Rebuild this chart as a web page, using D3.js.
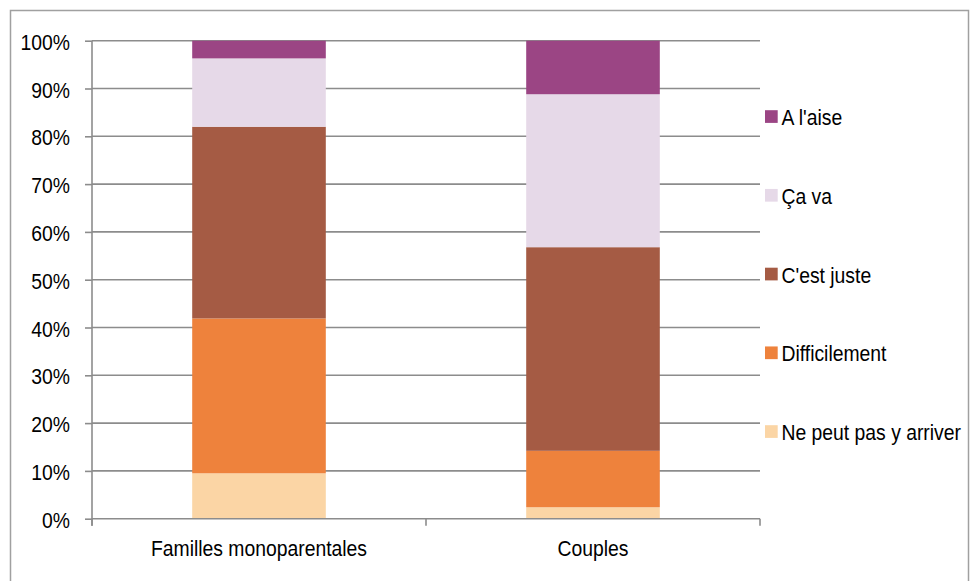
<!DOCTYPE html>
<html>
<head>
<meta charset="utf-8">
<script src="https://cdn.jsdelivr.net/npm/d3@7"></script>
<style>
  html, body { margin: 0; padding: 0; background: #fff; }
  svg { display: block; }
  text { font-family: "Liberation Sans", Arial, sans-serif; fill: #000; }
</style>
</head>
<body>
<svg id="chart" width="971" height="581"></svg>
<script>
// Budget situation by household type (shares, %)
const categories = ["Familles monoparentales", "Couples"];
const seriesNames = ["Ne peut pas y arriver", "Difficilement", "C'est juste", "Ça va", "A l'aise"];
const seriesColors = ["#FBD5A5", "#EE823C", "#A55B44", "#E6D9E8", "#9B4584"];
const nePeutPas    = [9.5, 2.4];
const difficilement = [32.4, 11.8];
const cestJuste    = [40.1, 42.6];
const caVa         = [14.3, 32.0];
const aLaise       = [3.7, 11.2];
const yTicks = [0, 10, 20, 30, 40, 50, 60, 70, 80, 90, 100];

const seriesValues = [nePeutPas, difficilement, cestJuste, caVa, aLaise];
const rows = categories.map((c, i) => {
  const r = { cat: c };
  seriesNames.forEach((s, k) => { r[s] = seriesValues[k][i]; });
  return r;
});

const svg = d3.select("#chart");
const plot = { left: 92, right: 760, top: 40.7, bottom: 518.7 };
const gridColor = "#8c8c8c";
const FS = 21.5, SX = 0.9; // slightly condensed label type

// place a condensed text label at (px, py)
function label(sel, px, py, anchor) {
  return sel.append("text")
    .attr("transform", `translate(${px},${py}) scale(${SX},1)`)
    .attr("text-anchor", anchor)
    .attr("dy", "0.35em")
    .style("font-size", FS + "px");
}

// outer frame
svg.append("rect")
  .attr("x", 10.5).attr("y", 10.5)
  .attr("width", 958).attr("height", 580)
  .attr("fill", "none").attr("stroke", "#a0a0a0").attr("stroke-width", 1.5);

const x = d3.scaleBand().domain(categories).range([plot.left, plot.right]).padding(0);
const y = d3.scaleLinear().domain([0, 100]).range([plot.bottom, plot.top]);
const color = d3.scaleOrdinal().domain(seriesNames).range(seriesColors);

// horizontal gridlines
svg.append("g").selectAll("line")
  .data(yTicks.filter(t => t > 0))
  .join("line")
  .attr("x1", plot.left).attr("x2", plot.right)
  .attr("y1", d => y(d)).attr("y2", d => y(d))
  .attr("stroke", gridColor).attr("stroke-width", 1.6);

// stacked bars
const stack = d3.stack().keys(seriesNames)(rows);
const barW = x.bandwidth() * 0.4;
svg.append("g").selectAll("g")
  .data(stack)
  .join("g")
  .attr("fill", d => color(d.key))
  .selectAll("rect")
  .data(d => d)
  .join("rect")
  .attr("x", d => x(d.data.cat) + (x.bandwidth() - barW) / 2)
  .attr("width", barW)
  .attr("y", d => y(d[1]))
  .attr("height", d => y(d[0]) - y(d[1]));

// y axis
const yAxis = svg.append("g")
  .attr("transform", `translate(${plot.left},0)`)
  .call(d3.axisLeft(y).tickValues(yTicks).tickFormat(d => d + "%").tickSize(7).tickPadding(15));
yAxis.select(".domain").attr("stroke", gridColor).attr("stroke-width", 1.6)
  .attr("d", `M0,${plot.top}V${plot.bottom + 7}`);
yAxis.selectAll(".tick line").attr("stroke", gridColor).attr("stroke-width", 1.6);
yAxis.selectAll(".tick text").remove();
yTicks.forEach(t => {
  label(svg, plot.left - 22, y(t) + 1.5, "end").text(t + "%");
});

// x axis with boundary ticks between categories
const xAxisG = svg.append("g");
xAxisG.append("line")
  .attr("x1", plot.left).attr("x2", plot.right)
  .attr("y1", plot.bottom).attr("y2", plot.bottom)
  .attr("stroke", gridColor).attr("stroke-width", 1.6);
const bounds = categories.map(c => x(c) + x.bandwidth()).concat([x(categories[0])]);
xAxisG.selectAll("line.tk")
  .data(bounds)
  .join("line").attr("class", "tk")
  .attr("x1", d => d).attr("x2", d => d)
  .attr("y1", plot.bottom).attr("y2", plot.bottom + 7)
  .attr("stroke", gridColor).attr("stroke-width", 1.6);
categories.forEach(c => {
  label(xAxisG, x(c) + x.bandwidth() / 2, 548, "middle").text(c);
});

// legend (top item = top of stack)
const legendItems = seriesNames.slice().reverse();
const legend = svg.append("g");
legendItems.forEach((name, i) => {
  const cy = 116.7 + i * 78.75;
  legend.append("rect")
    .attr("x", 765).attr("y", cy - 6.5).attr("width", 12.7).attr("height", 12.7)
    .attr("fill", color(name));
  label(legend, 781.5, cy + 1, "start").text(name);
});
</script>
</body>
</html>
